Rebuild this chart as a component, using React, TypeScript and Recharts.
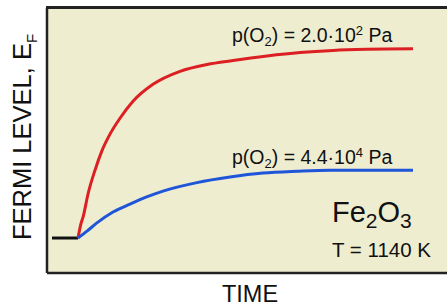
import { CartesianGrid, Customized, Line, LineChart, XAxis, YAxis } from 'recharts'

// Fermi level transient of Fe2O3 after a step in oxygen pressure
const RED_TIME = [7.75, 8.4, 9.08, 10.3, 12, 13.7, 15.75, 18.25, 21.5, 26.5, 33.25, 40, 46.5, 55, 63.25, 71.5, 80, 91.5]
const RED_LEVEL = [13.2, 18.1, 21.5, 30.1, 38.8, 46.0, 52.4, 58.4, 64.8, 71.2, 76.1, 78.7, 80.2, 81.9, 83.2, 84.0, 84.4, 84.6]

const BLUE_TIME = [7.75, 10, 12.4, 16.5, 20.75, 24.75, 29, 37.5, 45.75, 54, 62.5, 70.75, 91.5]
const BLUE_LEVEL = [13.2, 15.8, 18.8, 23.0, 26.0, 28.6, 30.9, 34.1, 36.2, 37.7, 38.4, 38.8, 38.8]

const BASE_TIME = [1.25, 7.75]
const BASE_LEVEL = [13.2, 13.2]

const RED_LABEL = ['p(O', '2', ') = 2.0·10', '2', ' Pa']
const BLUE_LABEL = ['p(O', '2', ') = 4.4·10', '4', ' Pa']

const CHART_W = 447
const CHART_H = 306
const COLOR_RED = '#dc1f22'
const COLOR_BLUE = '#1f55d8'
const COLOR_BG = '#eeedd0'
const COLOR_TEXT = '#111111'
const COLOR_FRAME = '#222222'
const FONT = '"Liberation Sans", Arial, sans-serif'

const toPoints = (xs: number[], ys: number[]) => xs.map((t, i) => ({ t, v: ys[i] }))

function PressureLabel({ x, y, parts }: { x: number; y: number; parts: string[] }) {
  return (
    <text x={x} y={y} fontSize={19.5} fill={COLOR_TEXT} fontFamily={FONT}>
      <tspan>{parts[0]}</tspan>
      <tspan fontSize={13} dy={4}>{parts[1]}</tspan>
      <tspan dy={-4}>{parts[2]}</tspan>
      <tspan fontSize={13} dy={-7}>{parts[3]}</tspan>
      <tspan dy={7}>{parts[4]}</tspan>
    </text>
  )
}

function Annotations() {
  return (
    <g>
      <PressureLabel x={232} y={42} parts={RED_LABEL} />
      <PressureLabel x={232} y={164} parts={BLUE_LABEL} />
      <text x={332} y={222} fontSize={29} fill={COLOR_TEXT} fontFamily={FONT}>
        <tspan>Fe</tspan>
        <tspan fontSize={21} dy={6}>2</tspan>
        <tspan dy={-6}>O</tspan>
        <tspan fontSize={21} dy={6}>3</tspan>
      </text>
      <text x={332} y={257} fontSize={20.5} fill={COLOR_TEXT} fontFamily={FONT}>
        T = 1140 K
      </text>
      <text x={250} y={302} fontSize={23.5} fill={COLOR_TEXT} fontFamily={FONT} textAnchor="middle">
        TIME
      </text>
      <text
        x={0}
        y={0}
        transform="translate(31 137) rotate(-90)"
        textAnchor="middle"
        fontSize={25.5}
        fill={COLOR_TEXT}
        fontFamily={FONT}
      >
        <tspan>FERMI LEVEL, E</tspan>
        <tspan fontSize={15} dy={6}>F</tspan>
      </text>
    </g>
  )
}

export default function App() {
  return (
    <div style={{ position: 'absolute', left: 0, top: 0, width: CHART_W, height: CHART_H }}>
      <LineChart width={CHART_W} height={CHART_H} margin={{ top: 8, right: 0, bottom: 0, left: 0 }}>
        <CartesianGrid horizontal={false} vertical={false} fill={COLOR_BG} stroke="none" />
        <XAxis
          type="number"
          dataKey="t"
          domain={[0, 100]}
          height={33}
          tick={false}
          tickLine={false}
          axisLine={{ stroke: COLOR_FRAME, strokeWidth: 2.5 }}
        />
        <YAxis
          type="number"
          domain={[0, 100]}
          width={47}
          tick={false}
          tickLine={false}
          axisLine={{ stroke: COLOR_FRAME, strokeWidth: 2.5 }}
        />
        <Line
          data={toPoints(BASE_TIME, BASE_LEVEL)}
          dataKey="v"
          type="linear"
          stroke="#111"
          strokeWidth={3}
          dot={false}
          isAnimationActive={false}
        />
        <Line
          data={toPoints(RED_TIME, RED_LEVEL)}
          dataKey="v"
          type="monotone"
          stroke={COLOR_RED}
          strokeWidth={3}
          dot={false}
          isAnimationActive={false}
        />
        <Line
          data={toPoints(BLUE_TIME, BLUE_LEVEL)}
          dataKey="v"
          type="monotone"
          stroke={COLOR_BLUE}
          strokeWidth={3}
          dot={false}
          isAnimationActive={false}
        />
        <Customized component={Annotations} />
      </LineChart>
      {/* top edge of the frame */}
      <div
        style={{
          position: 'absolute',
          left: 46,
          top: 6,
          width: CHART_W - 46,
          height: 0,
          borderTop: `3px solid ${COLOR_FRAME}`,
          pointerEvents: 'none',
        }}
      />
    </div>
  )
}
